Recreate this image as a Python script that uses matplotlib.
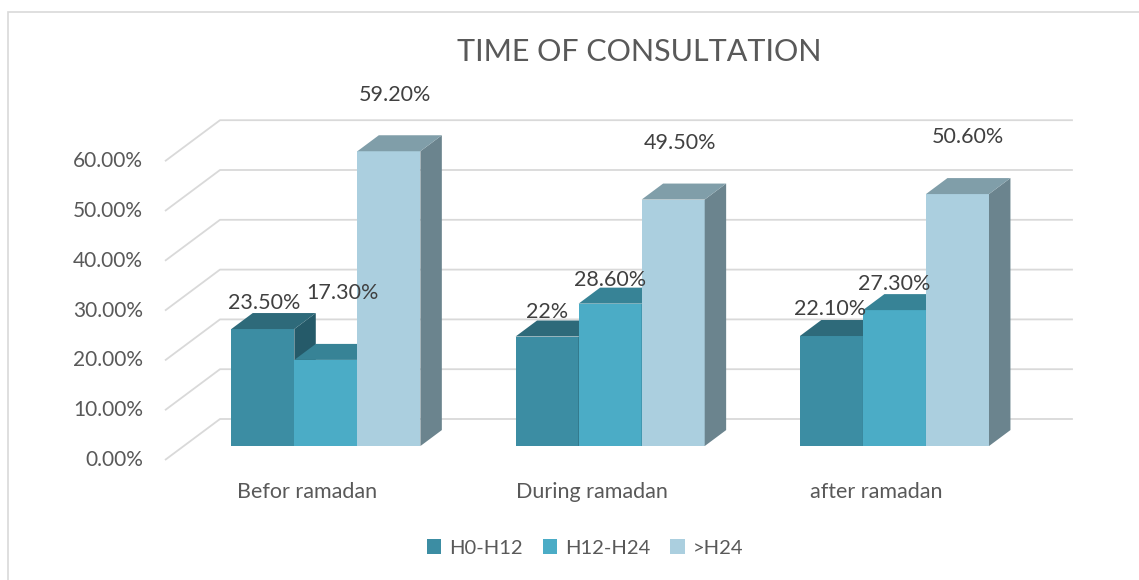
import matplotlib.pyplot as plt
from matplotlib.patches import Patch, Rectangle
import numpy as np

plt.rcParams['font.family'] = ['Lato', 'DejaVu Sans']

categories = ['Befor ramadan', 'During ramadan', 'after ramadan']
series = ['H0-H12', 'H12-H24', '>H24']
values = {
    'H0-H12': [23.5, 22.0, 22.1],
    'H12-H24': [17.3, 28.6, 27.3],
    '>H24': [59.2, 49.5, 50.6],
}
labels = {
    'H0-H12': ['23.50%', '22%', '22.10%'],
    'H12-H24': ['17.30%', '28.60%', '27.30%'],
    '>H24': ['59.20%', '49.50%', '50.60%'],
}
yticks = [0, 10, 20, 30, 40, 50, 60]

# face colours: front, top, side
colors = {
    'H0-H12': ('#3c8da3', '#2e6a7a', '#255a69'),
    'H12-H24': ('#4bacc6', '#378396', '#2f7385'),
    '>H24': ('#abcfdf', '#809ea9', '#6b848e'),
}
# data label offsets in pixels from bar top-front centre
label_off = {
    'H0-H12': [(1, 26), (0, 25), (-1, 27)],
    'H12-H24': [(17, 67), (0, 24), (0, 26)],
    '>H24': [(6, 56), (7, 57), (10, 57)],
}

W, H = 1139, 580
fig = plt.figure(figsize=(W / 100, H / 100), dpi=100)
ax = fig.add_axes([0, 0, 1, 1])
ax.set_axis_off()

# pixel mapping of the front plane
px_u = 284.3   # px per category
px_v = 4.98    # px per percent
x0, y0 = 165, 460  # pixel of (0, 0%) at front, y from top
ax.set_xlim(-x0 / px_u, (W - x0) / px_u)
ax.set_ylim(-(H - y0) / px_v, y0 / px_v)

# full depth vector in data units
du = 55 / px_u
dv = 41 / px_v
n = len(categories)

# figure border
fig.patches.append(Rectangle((8 / W, -0.1), 1.2, 1 - 12 / H + 0.1,
                             transform=fig.transFigure, fill=False,
                             edgecolor='#d9d9d9', lw=1.2))

# back wall / side wall gridlines
for t in yticks:
    ax.plot([0, du, n + du], [t, t + dv, t + dv], color='#d9d9d9', lw=1.3,
            zorder=1, solid_capstyle='butt')
    ax.text(-22 / px_u, t, f'{t:.2f}%', ha='right', va='center',
            fontsize=15, color='#595959')

# bars
bw = 0.2217
d0, d1 = 0.34, 0.73
for i in range(n):
    for j, s in enumerate(series):
        v = values[s][i]
        xl = i + 0.5 - 1.5 * bw + j * bw
        xr = xl + bw
        front, top, side = colors[s]
        ox0, oy0 = du * d0, dv * d0
        ox1, oy1 = du * d1, dv * d1
        # front face
        ax.fill([xl + ox0, xr + ox0, xr + ox0, xl + ox0],
                [oy0, oy0, v + oy0, v + oy0], color=front, lw=0, zorder=2)
        # side face
        ax.fill([xr + ox0, xr + ox1, xr + ox1, xr + ox0],
                [oy0, oy1, v + oy1, v + oy0], color=side, lw=0, zorder=2)
        # top face
        ax.fill([xl + ox0, xr + ox0, xr + ox1, xl + ox1],
                [v + oy0, v + oy0, v + oy1, v + oy1], color=top, lw=0, zorder=2)
        ax.annotate(labels[s][i], (xl + bw / 2 + ox0, v + oy0),
                    xytext=label_off[s][i], textcoords='offset pixels',
                    ha='center', va='center',
                    fontsize=15.5, color='#404040', zorder=3)

# category labels
for i, c in enumerate(categories):
    ax.text(i + 0.5, -32 / px_v, c, ha='center', va='center',
            fontsize=15.5, color='#595959')

fig.text(639 / W, 1 - 52 / H, 'TIME OF CONSULTATION', ha='center', va='center',
         fontsize=22, color='#595959')

handles = [Patch(facecolor=colors[s][0], edgecolor='none') for s in series]
fig.legend(handles, series, loc='center', bbox_to_anchor=(585 / W, 1 - 548 / H),
           ncol=3, frameon=False, fontsize=14.5, labelcolor='#595959',
           handlelength=0.7, handleheight=0.7, handletextpad=0.4,
           columnspacing=1.0)

fig.savefig('out.png', dpi=100)
